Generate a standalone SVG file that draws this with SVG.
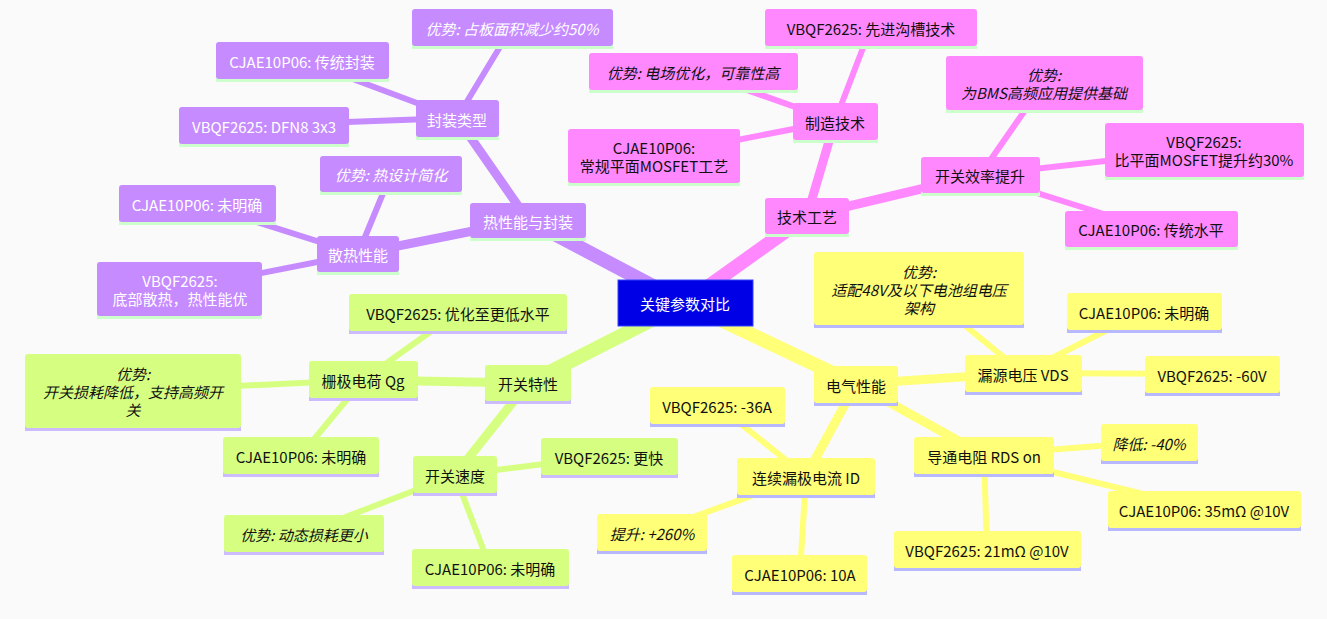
<svg xmlns="http://www.w3.org/2000/svg" width="1327" height="619" viewBox="0 0 1327 619">
<style>
text{font-family:"Noto Sans CJK SC","Noto Sans",sans-serif;font-size:15px;text-anchor:middle;dominant-baseline:central}
.i{font-style:italic}
.P rect.b{fill:#c68bff}.P rect.u{fill:#ccffcc}.P text{fill:#fff}
.K rect.b{fill:#ff88ff}.K rect.u{fill:#ccffcc}.K text{fill:#111}
.G rect.b{fill:#d6ff82}.G rect.u{fill:#ccbbff}.G text{fill:#111}
.Y rect.b{fill:#ffff78}.Y rect.u{fill:#b8b8ff}.Y text{fill:#111}
#edges line{stroke-linecap:round}
.pe{stroke:#c68bff}.ke{stroke:#ff88ff}.ge{stroke:#d6ff82}.ye{stroke:#ffff78}
</style>
<rect width="1327" height="619" fill="#fafafa"/>
<g id="edges">
<line class="pe" x1="685" y1="303" x2="528" y2="220" stroke-width="14"/>
<line class="ke" x1="685" y1="303" x2="807" y2="216" stroke-width="14"/>
<line class="ge" x1="685" y1="303" x2="528" y2="383" stroke-width="14"/>
<line class="ye" x1="685" y1="303" x2="856" y2="384" stroke-width="14"/>
<line class="pe" x1="528" y1="220" x2="457" y2="118" stroke-width="9"/>
<line class="pe" x1="528" y1="220" x2="358" y2="254" stroke-width="9"/>
<line class="pe" x1="457" y1="118" x2="512" y2="27" stroke-width="6"/>
<line class="pe" x1="457" y1="118" x2="302" y2="60" stroke-width="6"/>
<line class="pe" x1="457" y1="118" x2="264" y2="125" stroke-width="6"/>
<line class="pe" x1="358" y1="254" x2="391" y2="174" stroke-width="6"/>
<line class="pe" x1="358" y1="254" x2="197" y2="203" stroke-width="6"/>
<line class="pe" x1="358" y1="254" x2="180" y2="289" stroke-width="6"/>
<line class="ke" x1="807" y1="216" x2="835" y2="121" stroke-width="9"/>
<line class="ke" x1="807" y1="216" x2="980" y2="175" stroke-width="9"/>
<line class="ke" x1="835" y1="121" x2="871" y2="27" stroke-width="6"/>
<line class="ke" x1="835" y1="121" x2="693" y2="71" stroke-width="6"/>
<line class="ke" x1="835" y1="121" x2="654" y2="156" stroke-width="6"/>
<line class="ke" x1="980" y1="175" x2="1044" y2="83" stroke-width="6"/>
<line class="ke" x1="980" y1="175" x2="1204" y2="150" stroke-width="6"/>
<line class="ke" x1="980" y1="175" x2="1151" y2="229" stroke-width="6"/>
<line class="ge" x1="528" y1="383" x2="363" y2="380" stroke-width="9"/>
<line class="ge" x1="528" y1="383" x2="455" y2="475" stroke-width="9"/>
<line class="ge" x1="363" y1="380" x2="458" y2="312" stroke-width="6"/>
<line class="ge" x1="363" y1="380" x2="133" y2="391" stroke-width="6"/>
<line class="ge" x1="363" y1="380" x2="301" y2="455" stroke-width="6"/>
<line class="ge" x1="455" y1="475" x2="609" y2="456" stroke-width="6"/>
<line class="ge" x1="455" y1="475" x2="304" y2="533" stroke-width="6"/>
<line class="ge" x1="455" y1="475" x2="490" y2="567" stroke-width="6"/>
<line class="ye" x1="856" y1="384" x2="1023" y2="373" stroke-width="9"/>
<line class="ye" x1="856" y1="384" x2="806" y2="476" stroke-width="9"/>
<line class="ye" x1="856" y1="384" x2="984" y2="455" stroke-width="9"/>
<line class="ye" x1="1023" y1="373" x2="919" y2="288" stroke-width="6"/>
<line class="ye" x1="1023" y1="373" x2="1144" y2="311" stroke-width="6"/>
<line class="ye" x1="1023" y1="373" x2="1212" y2="374" stroke-width="6"/>
<line class="ye" x1="806" y1="476" x2="717" y2="405" stroke-width="6"/>
<line class="ye" x1="806" y1="476" x2="652" y2="532" stroke-width="6"/>
<line class="ye" x1="806" y1="476" x2="800" y2="573" stroke-width="6"/>
<line class="ye" x1="984" y1="455" x2="1149" y2="442" stroke-width="6"/>
<line class="ye" x1="984" y1="455" x2="1204" y2="509" stroke-width="6"/>
<line class="ye" x1="984" y1="455" x2="987" y2="549" stroke-width="6"/>
</g>
<g id="root"><rect x="618" y="280" width="135" height="46" fill="#0000e6" stroke="#3344ff"/><text x="685" y="303" fill="#fff">关键参数对比</text></g>

<g id="p1" class="P"><rect class="u" x="470" y="206" width="116" height="35"/><rect class="b" x="470" y="203" width="116" height="35" rx="3"/><text x="528" y="221">热性能与封装</text></g>
<g id="p2" class="P"><rect class="u" x="416" y="103" width="83" height="37"/><rect class="b" x="416" y="100" width="83" height="37" rx="3"/><text x="457" y="119">封装类型</text></g>
<g id="p3" class="P"><rect class="u" x="412" y="12" width="201" height="37"/><rect class="b" x="412" y="9" width="201" height="37" rx="3"/><text class="i" x="512" y="28">优势: 占板面积减少约50%</text></g>
<g id="p4" class="P"><rect class="u" x="216" y="45" width="173" height="37"/><rect class="b" x="216" y="42" width="173" height="37" rx="3"/><text x="302" y="61">CJAE10P06: 传统封装</text></g>
<g id="p5" class="P"><rect class="u" x="179" y="110" width="170" height="37"/><rect class="b" x="179" y="107" width="170" height="37" rx="3"/><text x="264" y="126">VBQF2625: DFN8 3x3</text></g>
<g id="p6" class="P"><rect class="u" x="317" y="239" width="82" height="36"/><rect class="b" x="317" y="236" width="82" height="36" rx="3"/><text x="358" y="254">散热性能</text></g>
<g id="p7" class="P"><rect class="u" x="320" y="159" width="142" height="36"/><rect class="b" x="320" y="156" width="142" height="36" rx="3"/><text class="i" x="391" y="174">优势: 热设计简化</text></g>
<g id="p8" class="P"><rect class="u" x="119" y="188" width="157" height="37"/><rect class="b" x="119" y="185" width="157" height="37" rx="3"/><text x="197" y="204">CJAE10P06: 未明确</text></g>
<g id="p9" class="P"><rect class="u" x="97" y="265" width="165" height="54"/><rect class="b" x="97" y="262" width="165" height="54" rx="3"/><text x="180" y="280">VBQF2625:</text><text x="180" y="298">底部散热，热性能优</text></g>

<g id="k1" class="K"><rect class="u" x="765" y="201" width="84" height="36"/><rect class="b" x="765" y="198" width="84" height="36" rx="3"/><text x="807" y="216">技术工艺</text></g>
<g id="k2" class="K"><rect class="u" x="793" y="106" width="85" height="37"/><rect class="b" x="793" y="103" width="85" height="37" rx="3"/><text x="835" y="122">制造技术</text></g>
<g id="k3" class="K"><rect class="u" x="765" y="12" width="212" height="37"/><rect class="b" x="765" y="9" width="212" height="37" rx="3"/><text x="871" y="28">VBQF2625: 先进沟槽技术</text></g>
<g id="k4" class="K"><rect class="u" x="589" y="56" width="209" height="37"/><rect class="b" x="589" y="53" width="209" height="37" rx="3"/><text class="i" x="693" y="72">优势: 电场优化，可靠性高</text></g>
<g id="k5" class="K"><rect class="u" x="568" y="132" width="172" height="54"/><rect class="b" x="568" y="129" width="172" height="54" rx="3"/><text x="654" y="147">CJAE10P06:</text><text x="654" y="165">常规平面MOSFET工艺</text></g>
<g id="k6" class="K"><rect class="u" x="921" y="160" width="119" height="36"/><rect class="b" x="921" y="157" width="119" height="36" rx="3"/><text x="980" y="175">开关效率提升</text></g>
<g id="k7" class="K"><rect class="u" x="946" y="59" width="197" height="54"/><rect class="b" x="946" y="56" width="197" height="54" rx="3"/><text class="i" x="1044" y="74">优势:</text><text class="i" x="1044" y="92">为BMS高频应用提供基础</text></g>
<g id="k8" class="K"><rect class="u" x="1105" y="126" width="199" height="54"/><rect class="b" x="1105" y="123" width="199" height="54" rx="3"/><text x="1204" y="141">VBQF2625:</text><text x="1204" y="159">比平面MOSFET提升约30%</text></g>
<g id="k9" class="K"><rect class="u" x="1065" y="214" width="173" height="36"/><rect class="b" x="1065" y="211" width="173" height="36" rx="3"/><text x="1151" y="229">CJAE10P06: 传统水平</text></g>

<g id="g1" class="G"><rect class="u" x="485" y="368" width="86" height="36"/><rect class="b" x="485" y="365" width="86" height="36" rx="3"/><text x="528" y="383">开关特性</text></g>
<g id="g2" class="G"><rect class="u" x="309" y="364" width="109" height="37"/><rect class="b" x="309" y="361" width="109" height="37" rx="3"/><text x="363" y="380">栅极电荷 Qg</text></g>
<g id="g3" class="G"><rect class="u" x="349" y="297" width="218" height="37"/><rect class="b" x="349" y="294" width="218" height="37" rx="3"/><text x="458" y="313">VBQF2625: 优化至更低水平</text></g>
<g id="g4" class="G"><rect class="u" x="25" y="357" width="216" height="74"/><rect class="b" x="25" y="354" width="216" height="74" rx="3"/><text class="i" x="133" y="373">优势:</text><text class="i" x="133" y="391">开关损耗降低，支持高频开</text><text class="i" x="133" y="409">关</text></g>
<g id="g5" class="G"><rect class="u" x="223" y="440" width="156" height="37"/><rect class="b" x="223" y="437" width="156" height="37" rx="3"/><text x="301" y="456">CJAE10P06: 未明确</text></g>
<g id="g6" class="G"><rect class="u" x="413" y="459" width="84" height="37"/><rect class="b" x="413" y="456" width="84" height="37" rx="3"/><text x="455" y="475">开关速度</text></g>
<g id="g7" class="G"><rect class="u" x="541" y="441" width="137" height="37"/><rect class="b" x="541" y="438" width="137" height="37" rx="3"/><text x="609" y="457">VBQF2625: 更快</text></g>
<g id="g8" class="G"><rect class="u" x="224" y="518" width="160" height="37"/><rect class="b" x="224" y="515" width="160" height="37" rx="3"/><text class="i" x="304" y="534">优势: 动态损耗更小</text></g>
<g id="g9" class="G"><rect class="u" x="412" y="552" width="157" height="37"/><rect class="b" x="412" y="549" width="157" height="37" rx="3"/><text x="490" y="568">CJAE10P06: 未明确</text></g>

<g id="y1" class="Y"><rect class="u" x="814" y="369" width="84" height="37"/><rect class="b" x="814" y="366" width="84" height="37" rx="3"/><text x="856" y="385">电气性能</text></g>
<g id="y2" class="Y"><rect class="u" x="814" y="255" width="210" height="73"/><rect class="b" x="814" y="252" width="210" height="73" rx="3"/><text class="i" x="919" y="271">优势:</text><text class="i" x="919" y="289">适配48V及以下电池组电压</text><text class="i" x="919" y="307">架构</text></g>
<g id="y3" class="Y"><rect class="u" x="965" y="358" width="117" height="37"/><rect class="b" x="965" y="355" width="117" height="37" rx="3"/><text x="1023" y="374">漏源电压 VDS</text></g>
<g id="y4" class="Y"><rect class="u" x="1067" y="296" width="155" height="37"/><rect class="b" x="1067" y="293" width="155" height="37" rx="3"/><text x="1144" y="312">CJAE10P06: 未明确</text></g>
<g id="y5" class="Y"><rect class="u" x="1145" y="359" width="135" height="37"/><rect class="b" x="1145" y="356" width="135" height="37" rx="3"/><text x="1212" y="375">VBQF2625: -60V</text></g>
<g id="y6" class="Y"><rect class="u" x="737" y="461" width="138" height="37"/><rect class="b" x="737" y="458" width="138" height="37" rx="3"/><text x="806" y="477">连续漏极电流 ID</text></g>
<g id="y7" class="Y"><rect class="u" x="650" y="390" width="135" height="37"/><rect class="b" x="650" y="387" width="135" height="37" rx="3"/><text x="717" y="406">VBQF2625: -36A</text></g>
<g id="y8" class="Y"><rect class="u" x="597" y="517" width="110" height="37"/><rect class="b" x="597" y="514" width="110" height="37" rx="3"/><text class="i" x="652" y="533">提升: +260%</text></g>
<g id="y9" class="Y"><rect class="u" x="732" y="558" width="135" height="37"/><rect class="b" x="732" y="555" width="135" height="37" rx="3"/><text x="800" y="574">CJAE10P06: 10A</text></g>
<g id="y10" class="Y"><rect class="u" x="914" y="440" width="140" height="37"/><rect class="b" x="914" y="437" width="140" height="37" rx="3"/><text x="984" y="456">导通电阻 RDS on</text></g>
<g id="y11" class="Y"><rect class="u" x="1101" y="427" width="97" height="37"/><rect class="b" x="1101" y="424" width="97" height="37" rx="3"/><text class="i" x="1149" y="443">降低: -40%</text></g>
<g id="y12" class="Y"><rect class="u" x="1108" y="494" width="193" height="37"/><rect class="b" x="1108" y="491" width="193" height="37" rx="3"/><text x="1204" y="510">CJAE10P06: 35mΩ @10V</text></g>
<g id="y13" class="Y"><rect class="u" x="894" y="534" width="187" height="37"/><rect class="b" x="894" y="531" width="187" height="37" rx="3"/><text x="987" y="550">VBQF2625: 21mΩ @10V</text></g>
</svg>
